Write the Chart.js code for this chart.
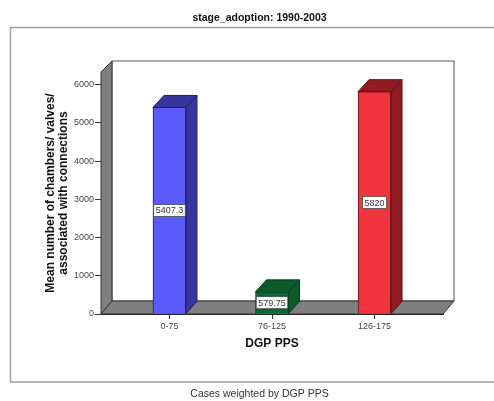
<!DOCTYPE html>
<html>
<head>
<meta charset="utf-8">
<style>
    html, body { margin: 0; padding: 0; background: #fff; }
    canvas { display: block; filter: blur(0.45px); }
</style>
<script src="https://cdn.jsdelivr.net/npm/chart.js@4"></script>
</head>
<body>
<canvas id="chart" width="494" height="401"></canvas>
<script>
const CATEGORIES = ['0-75', '76-125', '126-175']
const MEANS = [5407.3, 579.75, 5820]
const Y_TICKS = [0, 1000, 2000, 3000, 4000, 5000, 6000]
const FRONT_COLORS = ['#5a5aff', '#0a6a34', '#f2343f']
const SHADE_COLORS = ['#35359b', '#0c5a2c', '#8f1c22']
const EDGE_COLORS = ['#1c1c66', '#063d1c', '#5e1015']

const FONT = '"Liberation Sans", Arial, sans-serif'
const DEPTH_X = 11
const DEPTH_Y = 12

function polygon (ctx, points, fill, stroke) {
    ctx.beginPath()
    points.forEach(([ x, y ], i) => (i ? ctx.lineTo(x, y) : ctx.moveTo(x, y)))
    ctx.closePath()
    ctx.fillStyle = fill
    ctx.fill()
    ctx.strokeStyle = stroke
    ctx.lineWidth = 1
    ctx.stroke()
}

//
// Outer frame, grey walls and floor behind the bars
//

const box_plugin = {
    id: 'box',
    beforeDraw (chart) {
        const { ctx, width, height } = chart
        ctx.save()
        ctx.fillStyle = '#fff'
        ctx.fillRect(0, 0, width, height)
        ctx.strokeStyle = '#a0a0a0'
        ctx.lineWidth = 1.5
        ctx.beginPath()
        ctx.moveTo(width, 27.5)
        ctx.lineTo(10.5, 27.5)
        ctx.lineTo(10.5, 382)
        ctx.lineTo(width, 382)
        ctx.stroke()
        ctx.restore()
    },
    beforeDatasetsDraw (chart) {
        const { ctx, chartArea: { left, right, top, bottom } } = chart
        const dx = DEPTH_X
        const dy = DEPTH_Y + 1
        ctx.save()
        ctx.strokeStyle = '#555'
        ctx.lineWidth = 1
        ctx.strokeRect(left + dx, top - dy + 2, right - left, bottom - top - 2)
        polygon(ctx, [ [ left, bottom ], [ left, top ], [ left + dx, top - dy + 2 ], [ left + dx, bottom - dy ] ], '#7f7f7f', '#333')
        polygon(ctx, [ [ left, bottom ], [ right, bottom ], [ right + dx, bottom - dy ], [ left + dx, bottom - dy ] ], '#7f7f7f', '#333')
        ctx.restore()
    },
    afterDatasetsDraw (chart) {
        const { ctx } = chart
        const bars = chart.getDatasetMeta(0).data
        ctx.save()
        bars.forEach((bar, i) => {
            const x0 = bar.x - bar.width / 2
            const x1 = bar.x + bar.width / 2
            const shade = SHADE_COLORS[i]
            const edge = EDGE_COLORS[i]
            polygon(ctx, [ [ x1, bar.y ], [ x1 + DEPTH_X, bar.y - DEPTH_Y ], [ x1 + DEPTH_X, bar.base - DEPTH_Y ], [ x1, bar.base ] ], shade, edge)
            polygon(ctx, [ [ x0, bar.y ], [ x0 + DEPTH_X, bar.y - DEPTH_Y ], [ x1 + DEPTH_X, bar.y - DEPTH_Y ], [ x1, bar.y ] ], shade, edge)

            // value label in the middle of the front face
            const label = String(MEANS[i])
            ctx.font = '9px ' + FONT
            const w = ctx.measureText(label).width + 4
            const mid = (bar.y + bar.base) / 2
            ctx.fillStyle = '#fff'
            ctx.fillRect(bar.x - w / 2, mid - 6, w, 12)
            ctx.strokeStyle = '#444'
            ctx.lineWidth = 0.75
            ctx.strokeRect(bar.x - w / 2, mid - 6, w, 12)
            ctx.fillStyle = '#333'
            ctx.textAlign = 'center'
            ctx.textBaseline = 'middle'
            ctx.fillText(label, bar.x, mid + 0.5)
        })
        ctx.restore()
    },
}

const ctx = document.getElementById('chart').getContext('2d')
new Chart(ctx, {
    type: 'bar',
    plugins: [ box_plugin ],
    data: {
        datasets: [
            {
                data: MEANS.map((y, x) => ({ x, y })),
                backgroundColor: FRONT_COLORS,
                borderColor: EDGE_COLORS,
                borderWidth: 1,
                barThickness: 33,
            },
        ],
    },
    options: {
        responsive: false,
        animation: false,
        layout: { padding: { left: 25, right: 0, top: 0, bottom: 0 } },
        plugins: {
            legend: { display: false },
            tooltip: { enabled: false },
            title: {
                display: true,
                text: 'stage_adoption: 1990-2003',
                color: '#111',
                font: { family: FONT, size: 10.5, weight: 'bold' },
                padding: { top: 12, bottom: 47.4 },
            },
            subtitle: {
                display: true,
                position: 'bottom',
                text: 'Cases weighted by DGP PPS',
                color: '#333',
                font: { family: FONT, size: 10.5, weight: 'normal' },
                padding: { top: 0, bottom: 1 },
            },
        },
        scales: {
            x: {
                type: 'linear',
                offset: false,
                min: -0.668,
                max: 2.668,
                afterBuildTicks: (scale) => {
                    scale.ticks = CATEGORIES.map((c, i) => ({ value: i }))
                },
                afterFit: (scale) => {
                    scale.height = 73.4
                },
                grid: { offset: false, drawOnChartArea: false, tickLength: 5, tickColor: '#333' },
                border: { color: '#222' },
                ticks: {
                    autoSkip: false,
                    maxRotation: 0,
                    padding: 2,
                    color: '#444',
                    font: { family: FONT, size: 9 },
                    callback: (v) => CATEGORIES[v],
                },
                title: {
                    display: true,
                    text: 'DGP PPS',
                    color: '#111',
                    font: { family: FONT, size: 12, weight: 'bold' },
                    padding: { top: 0, bottom: 36.4 },
                },
            },
            y: {
                min: 0,
                max: 6335,
                afterBuildTicks: (scale) => {
                    scale.ticks = Y_TICKS.map((value) => ({ value }))
                },
                afterFit: (scale) => {
                    scale.width = 76
                },
                grid: { drawOnChartArea: false, tickLength: 6, tickColor: '#333' },
                border: { color: '#222' },
                ticks: {
                    padding: 1,
                    color: '#444',
                    font: { family: FONT, size: 9 },
                    callback: (v) => String(v),
                },
                title: {
                    display: true,
                    text: [ 'Mean number of chambers/ valves/', 'associated with connections' ],
                    color: '#111',
                    font: { family: FONT, size: 12, weight: 'bold', lineHeight: 1.1 },
                    padding: { top: 19, bottom: 0 },
                },
            },
            // empty axis, only reserves the space right of the plot
            right_gap: {
                position: 'right',
                display: true,
                grid: { display: false },
                border: { display: false },
                ticks: { display: false },
                afterFit: (scale) => {
                    scale.width = 51
                },
            },
        },
    },
})
</script>
</body>
</html>
